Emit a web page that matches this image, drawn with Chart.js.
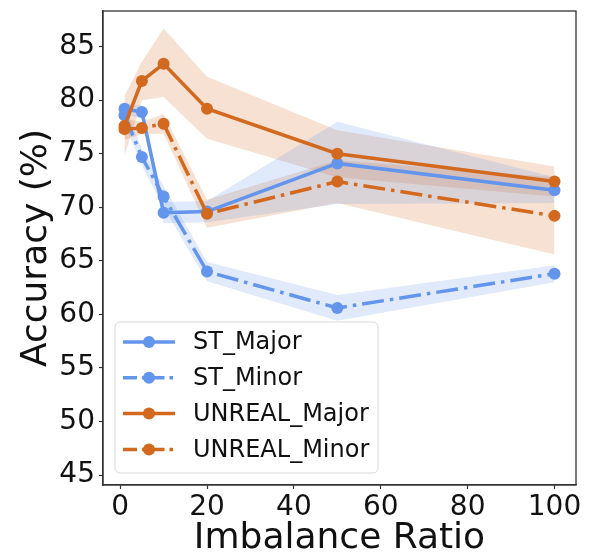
<!DOCTYPE html>
<html>
<head>
<meta charset="utf-8">
<script src="https://cdn.jsdelivr.net/npm/chart.js@4/dist/chart.umd.min.js"></script>
<style>
  html, body { margin: 0; padding: 0; background: #fff; }
  #wrap { width: 589px; height: 556px; position: relative; }
</style>
</head>
<body>
<div id="wrap"><canvas id="c" width="589" height="556"></canvas></div>
<script>
// ---- data ----
const xValues = [1, 5, 10, 20, 50, 100];

const stMajor      = [79.2, 78.9, 69.5, 69.6, 74.1, 71.6];
const stMajorLow   = [78.7, 78.3, 68.5, 68.6, 70.3, 70.4];
const stMajorHigh  = [79.7, 79.5, 70.5, 70.6, 78.0, 72.8];

const stMinor      = [78.6, 74.7, 71.0, 64.0, 60.6, 63.8];
const stMinorLow   = [77.8, 73.9, 70.0, 63.1, 59.4, 63.0];
const stMinorHigh  = [79.4, 75.5, 72.0, 64.9, 61.8, 64.6];

const unrealMajor     = [77.6, 81.8, 83.4, 79.2, 75.0, 72.4];
const unrealMajorLow  = [74.8, 80.0, 80.3, 76.4, 72.8, 71.0];
const unrealMajorHigh = [80.4, 83.6, 86.7, 82.2, 77.2, 73.8];

const unrealMinor     = [77.3, 77.4, 77.8, 69.4, 72.4, 69.2];
const unrealMinorLow  = [76.3, 76.8, 76.9, 68.1, 70.4, 65.6];
const unrealMinorHigh = [78.3, 78.0, 78.7, 70.7, 74.4, 72.8];

const xTicks = [0, 20, 40, 60, 80, 100];
const yTicks = [45, 50, 55, 60, 65, 70, 75, 80, 85];

const seriesNames = ['ST_Major', 'ST_Minor', 'UNREAL_Major', 'UNREAL_Minor'];

// ---- styling ----
const BLUE = 'rgb(100,149,237)';
const BLUE_BAND = 'rgba(100,149,237,0.2)';
const ORANGE = 'rgb(210,105,30)';
const ORANGE_BAND = 'rgba(210,105,30,0.2)';
const DASHDOT = [22, 6, 3.5, 6];
const FONT = "'DejaVu Sans', 'Liberation Sans', sans-serif";

const pts = arr => arr.map((v, i) => ({x: xValues[i], y: v}));

function band(low, high, color) {
  return [
    { data: pts(low), borderColor: 'rgba(0,0,0,0)', borderWidth: 0, pointRadius: 0,
      fill: false, order: 20, tension: 0 },
    { data: pts(high), borderColor: 'rgba(0,0,0,0)', borderWidth: 0, pointRadius: 0,
      fill: '-1', backgroundColor: color, order: 20, tension: 0 }
  ];
}

function line(label, vals, color, dash, order) {
  return { label, data: pts(vals), borderColor: color, backgroundColor: color,
    borderWidth: 3.5, borderDash: dash, pointRadius: 6, pointHoverRadius: 6,
    pointBackgroundColor: color, pointBorderColor: color, pointBorderWidth: 0,
    fill: false, order, tension: 0, _legendDash: dash };
}

const datasets = [
  ...band(stMajorLow, stMajorHigh, BLUE_BAND),
  ...band(stMinorLow, stMinorHigh, BLUE_BAND),
  ...band(unrealMajorLow, unrealMajorHigh, ORANGE_BAND),
  ...band(unrealMinorLow, unrealMinorHigh, ORANGE_BAND),
  line(seriesNames[0], stMajor, BLUE, [], 4),
  line(seriesNames[1], stMinor, BLUE, DASHDOT, 3),
  line(seriesNames[2], unrealMajor, ORANGE, [], 2),
  line(seriesNames[3], unrealMinor, ORANGE, DASHDOT, 1),
];

// frame + legend plugin
const framePlugin = {
  id: 'frameLegend',
  afterDraw(chart) {
    const ctx = chart.ctx;
    const a = chart.chartArea;
    ctx.save();
    ctx.strokeStyle = '#333';
    ctx.lineWidth = 1.3;
    ctx.strokeRect(a.left, a.top, a.right - a.left, a.bottom - a.top);

    // legend
    const bx = a.left + 12, bw = 263, bh = 151;
    const by = a.bottom - 12 - bh;
    const r = 5;
    ctx.beginPath();
    ctx.moveTo(bx + r, by);
    ctx.arcTo(bx + bw, by, bx + bw, by + bh, r);
    ctx.arcTo(bx + bw, by + bh, bx, by + bh, r);
    ctx.arcTo(bx, by + bh, bx, by, r);
    ctx.arcTo(bx, by, bx + bw, by, r);
    ctx.closePath();
    ctx.fillStyle = 'rgba(255,255,255,0.8)';
    ctx.fill();
    ctx.strokeStyle = '#d8d8d8';
    ctx.lineWidth = 1;
    ctx.stroke();

    const lineDs = chart.data.datasets.filter(d => d.label);
    lineDs.forEach((d, i) => {
      const cy = by + 20 + i * 35.8;
      const x0 = bx + 8, x1 = bx + 60, xm = bx + 34;
      ctx.strokeStyle = d.borderColor;
      ctx.lineWidth = 3.5;
      ctx.setLineDash(d._legendDash.length ? [14, 5, 3.5, 5] : []);
      ctx.beginPath();
      ctx.moveTo(x0, cy); ctx.lineTo(x1, cy);
      ctx.stroke();
      ctx.setLineDash([]);
      ctx.fillStyle = d.borderColor;
      ctx.beginPath();
      ctx.arc(xm, cy, 6, 0, Math.PI * 2);
      ctx.fill();
      ctx.fillStyle = '#111';
      ctx.font = '24px ' + FONT;
      ctx.textBaseline = 'middle';
      ctx.textAlign = 'left';
      ctx.fillText(d.label, bx + 78, cy + 1);
    });
    ctx.restore();
  }
};

new Chart(document.getElementById('c'), {
  type: 'line',
  data: { datasets },
  options: {
    responsive: false,
    animation: false,
    devicePixelRatio: 1,
    layout: { padding: { top: 11, right: 13, left: 0, bottom: 0 } },
    plugins: { legend: { display: false }, tooltip: { enabled: false } },
    scales: {
      x: {
        type: 'linear', min: -3.95, max: 104.95,
        afterBuildTicks: s => { s.ticks = xTicks.map(v => ({value: v})); },
        afterFit: s => { s.height = 71; s.paddingLeft = 0; s.paddingRight = 0; },
        grid: { drawOnChartArea: false, drawTicks: true, tickLength: 4, color: '#333', tickWidth: 1.2 },
        border: { display: true, color: '#333', width: 1.3 },
        ticks: { color: '#111', font: { family: FONT, size: 28 }, padding: 2, maxRotation: 0 },
        title: { display: true, text: 'Imbalance Ratio', color: '#111',
          font: { family: FONT, size: 36, lineHeight: 1 }, padding: { top: 0, bottom: -1 } }
      },
      y: {
        type: 'linear', min: 44.07, max: 88.33,
        afterBuildTicks: s => { s.ticks = yTicks.map(v => ({value: v})); },
        afterFit: s => { s.width = 103; s.paddingTop = 0; s.paddingBottom = 0; },
        grid: { drawOnChartArea: false, drawTicks: true, tickLength: 4, color: '#333', tickWidth: 1.2 },
        border: { display: true, color: '#333', width: 1.3 },
        ticks: { color: '#111', font: { family: FONT, size: 28 }, padding: 4 },
        title: { display: true, text: 'Accuracy (%)', color: '#111',
          font: { family: FONT, size: 36, lineHeight: 1 }, padding: { top: 19, bottom: 0 } }
      }
    }
  },
  plugins: [framePlugin]
});
</script>
</body>
</html>
